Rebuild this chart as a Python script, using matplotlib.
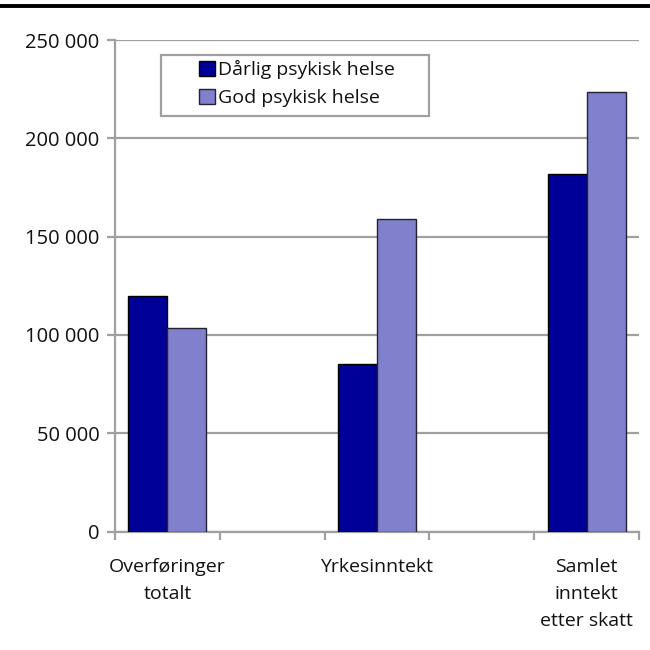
import matplotlib
matplotlib.use("Agg")
import matplotlib.pyplot as plt
from matplotlib.lines import Line2D
from matplotlib.patches import Rectangle
import numpy as np

categories = ["Overføringer\ntotalt", "Yrkesinntekt", "Samlet\ninntekt\netter skatt"]
series_names = ["Dårlig psykisk helse", "God psykisk helse"]
darlig = [119800, 85100, 181700]
god = [103400, 158800, 223800]
yticks = [0, 50000, 100000, 150000, 200000, 250000]
ytick_labels = ["0", "50 000", "100 000", "150 000", "200 000", "250 000"]

plt.rcParams['font.family'] = ['Open Sans', 'DejaVu Sans']
FS = 14

fig = plt.figure(figsize=(6.5, 6.5), dpi=100)
ax = fig.add_axes([115/650, 1-531.6/650, 524/650, 491.6/650])

grid_c = "#a0a0a0"
pos = np.array([0, 2, 4])
w = 0.372
ax.bar(pos - w/2, darlig, width=w, color="#000099", edgecolor="black", linewidth=1, label=series_names[0], zorder=3)
ax.bar(pos + w/2, god, width=w, color="#8080cc", edgecolor="#222233", linewidth=1, label=series_names[1], zorder=3)

ax.set_xlim(-0.5, 4.5)
ax.set_ylim(0, 250000)
ax.set_yticks(yticks)
ax.set_yticklabels(ytick_labels, fontsize=14.5, color="#111111")
ax.yaxis.grid(True, color=grid_c, linewidth=1.6, zorder=0)
ax.set_axisbelow(True)

ax.set_xticks([-0.5, 0.5, 1.5, 2.5, 3.5, 4.5])
ax.set_xticklabels([])
ax.set_xticks(pos, minor=True)
ax.set_xticklabels(categories, minor=True, fontsize=FS, color="#111111", linespacing=1.65, va="top")
ax.tick_params(axis="x", which="minor", length=0, pad=19)
ax.tick_params(axis="x", which="major", length=6, width=1.6, color=grid_c)
ax.tick_params(axis="y", length=6, width=1.6, color=grid_c, pad=5)

for s in ["top", "right"]:
    ax.spines[s].set_visible(False)
for s in ["left", "bottom"]:
    ax.spines[s].set_color(grid_c)
    ax.spines[s].set_linewidth(1.6)

# legend frame (drawn separately to get the wide side padding)
def px_to_ax(xp, yp):
    return (xp - 115) / 524, (531.6 - yp) / 491.6

x0, y1 = px_to_ax(161, 55)
x1, y0 = px_to_ax(429, 116)
ax.add_patch(Rectangle((x0, y0), x1 - x0, y1 - y0, transform=ax.transAxes,
                       facecolor="white", edgecolor=grid_c, linewidth=1.6, zorder=4,
                       clip_on=False))
lx, ly = px_to_ax(199, 60)
leg = ax.legend(loc="upper left", bbox_to_anchor=(lx, ly), fontsize=FS,
                frameon=False, handlelength=0.8, handleheight=0.8,
                handletextpad=0.2, borderpad=0, labelspacing=0.5, borderaxespad=0)
leg.set_zorder(5)
for t in leg.get_texts():
    t.set_color("#111111")

fig.add_artist(Line2D([0, 1], [1-5.5/650, 1-5.5/650], color="black", linewidth=2.8, transform=fig.transFigure))

fig.savefig("out.png", dpi=100)
